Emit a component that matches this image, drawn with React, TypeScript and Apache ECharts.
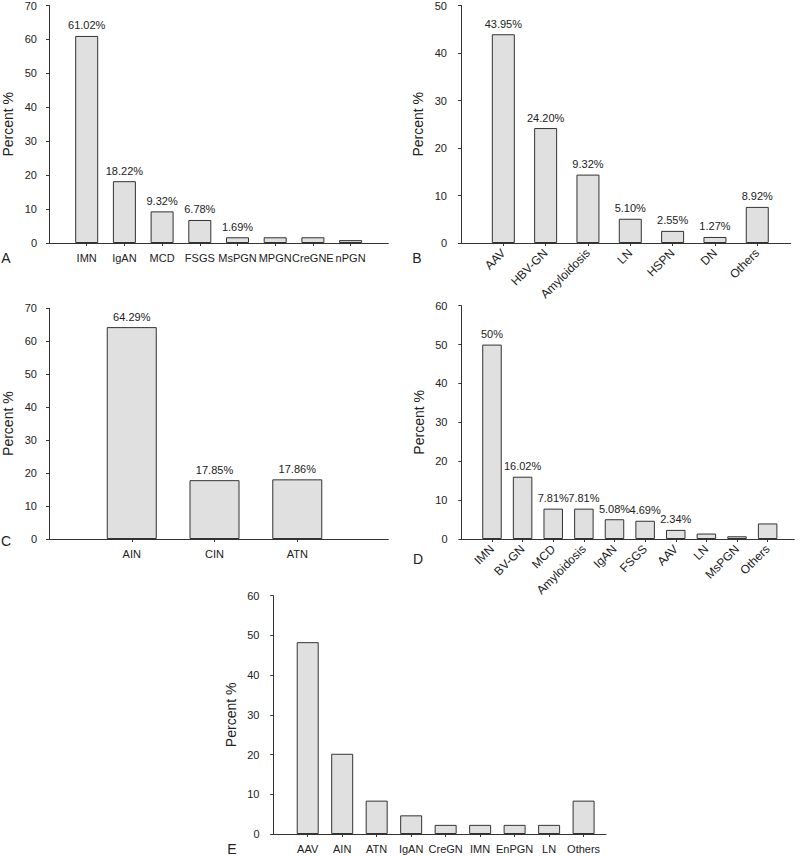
import React, { useEffect, useRef } from "react";
import * as echarts from "echarts";

// ---- Data ----
const A_CATS = ["IMN", "IgAN", "MCD", "FSGS", "MsPGN", "MPGN", "CreGNE", "nPGN"];
const A_VALUES = [61.02, 18.22, 9.32, 6.78, 1.69, 1.69, 1.69, 0.85];
const A_LABELS = ["61.02%", "18.22%", "9.32%", "6.78%", "1.69%", "", "", ""];

const B_CATS = ["AAV", "HBV-GN", "Amyloidosis", "LN", "HSPN", "DN", "Others"];
const B_VALUES = [43.95, 24.2, 14.4, 5.1, 2.55, 1.27, 7.6];
const B_LABELS = ["43.95%", "24.20%", "9.32%", "5.10%", "2.55%", "1.27%", "8.92%"];

const C_CATS = ["AIN", "CIN", "ATN"];
const C_VALUES = [64.29, 17.85, 18.1];
const C_LABELS = ["64.29%", "17.85%", "17.86%"];

const D_CATS = ["IMN", "BV-GN", "MCD", "Amyloidosis", "IgAN", "FSGS", "AAV", "LN", "MsPGN", "Others"];
const D_VALUES = [50, 16.02, 7.81, 7.81, 5.08, 4.69, 2.34, 1.4, 0.7, 4.0];
const D_LABELS = ["50%", "16.02%", "7.81%", "7.81%", "5.08%", "4.69%", "2.34%", "", "", ""];

const E_CATS = ["AAV", "AIN", "ATN", "IgAN", "CreGN", "IMN", "EnPGN", "LN", "Others"];
const E_VALUES = [48.3, 20.2, 8.4, 4.7, 2.3, 2.3, 2.3, 2.3, 8.4];
const E_LABELS = ["", "", "", "", "", "", "", "", ""];

const Y_MAX = [70, 50, 70, 60, 60];
const Y_NAME = "Percent %";
const PANEL_LETTERS = ["A", "B", "C", "D", "E"];

// ---- Layout ----
const FONT = "'Liberation Sans', Arial, Helvetica, sans-serif";
const TXT = "#222";
const AXIS = "#333";

const PANELS = [
  { cats: A_CATS, values: A_VALUES, labels: A_LABELS, ymax: Y_MAX[0], grid: { left: 48, top: 3, width: 340.3, height: 240 }, xmin: 0, xmax: 9, barWidth: 23, rotate: 0, letter: { x: 6, y: 258 } },
  { cats: B_CATS, values: B_VALUES, labels: B_LABELS, ymax: Y_MAX[1], grid: { left: 459, top: 3, width: 331.7, height: 240 }, xmin: -0.047, xmax: 7.79, barWidth: 23, rotate: 45, letter: { x: 417, y: 258 } },
  { cats: C_CATS, values: C_VALUES, labels: C_LABELS, ymax: Y_MAX[2], grid: { left: 47.5, top: 308.3, width: 340.8, height: 230.7 }, xmin: 0, xmax: 4.1, barWidth: 50, rotate: 0, letter: { x: 6, y: 541 } },
  { cats: D_CATS, values: D_VALUES, labels: D_LABELS, ymax: Y_MAX[3], grid: { left: 459.5, top: 305.7, width: 334.8, height: 233.3 }, xmin: -0.06, xmax: 10.87, barWidth: 19.5, rotate: 45, letter: { x: 418, y: 559 } },
  { cats: E_CATS, values: E_VALUES, labels: E_LABELS, ymax: Y_MAX[4], grid: { left: 271.5, top: 595.7, width: 334.5, height: 238.3 }, xmin: -0.05, xmax: 9.65, barWidth: 22, rotate: 0, letter: { x: 232, y: 849 } },
];

export default function App() {
  const ref = useRef<HTMLDivElement>(null);

  useEffect(() => {
    if (!ref.current) return;
    const chart = echarts.init(ref.current, undefined, { renderer: "svg" });

    const grid: any[] = [];
    const xAxis: any[] = [];
    const yAxis: any[] = [];
    const series: any[] = [];
    const graphic: any[] = [];

    PANELS.forEach((p, gi) => {
      grid.push({ ...p.grid, containLabel: false });
      const idx = p.cats.map((_, i) => i + 1);
      xAxis.push({
        type: "value",
        gridIndex: gi,
        min: p.xmin,
        max: p.xmax,
        splitLine: { show: false },
        axisLine: { show: true, onZero: false, lineStyle: { color: AXIS, width: 1 } },
        axisTick: { show: true, customValues: idx, length: 3, lineStyle: { color: AXIS } },
        axisLabel: {
          customValues: idx,
          rotate: p.rotate,
          margin: p.rotate ? 8 : 9,
          fontSize: p.rotate ? 12 : 11,
          fontFamily: FONT,
          color: TXT,
          formatter: (v: number) => p.cats[Math.round(v) - 1] ?? "",
        },
      });
      yAxis.push({
        type: "value",
        gridIndex: gi,
        min: 0,
        max: p.ymax,
        interval: 10,
        name: Y_NAME,
        nameLocation: "middle",
        nameGap: 34,
        nameTextStyle: { fontSize: 14, fontFamily: FONT, color: TXT },
        splitLine: { show: false },
        axisLine: { show: true, lineStyle: { color: AXIS, width: 1 } },
        axisTick: { show: true, length: 3, lineStyle: { color: AXIS } },
        axisLabel: { margin: 12, fontSize: 11, fontFamily: FONT, color: TXT },
      });
      series.push({
        type: "bar",
        xAxisIndex: gi,
        yAxisIndex: gi,
        barWidth: p.barWidth,
        itemStyle: { color: "#e0e0e0", borderColor: "#333", borderWidth: 1 },
        label: {
          show: true,
          position: "top",
          distance: 5,
          fontSize: 11,
          fontFamily: FONT,
          color: TXT,
          formatter: (d: any) => p.labels[d.dataIndex],
        },
        data: p.values.map((v, i) => [i + 1, v]),
      });
      graphic.push({
        type: "text",
        x: p.letter.x,
        y: p.letter.y,
        style: {
          text: PANEL_LETTERS[gi],
          fontSize: 14,
          fontFamily: FONT,
          fill: TXT,
          align: "center",
          verticalAlign: "middle",
        },
      });
    });

    chart.setOption({
      animation: false,
      backgroundColor: "#fff",
      grid,
      xAxis,
      yAxis,
      series,
      graphic,
    });

    return () => chart.dispose();
  }, []);

  return (
    <div
      ref={ref}
      style={{ position: "absolute", left: 0, top: 0, width: 800, height: 856 }}
    />
  );
}
